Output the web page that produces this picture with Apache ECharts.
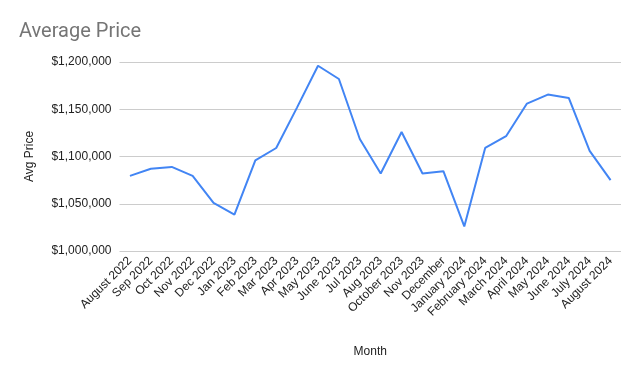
<!DOCTYPE html>
<html>
<head>
<meta charset="utf-8">
<script src="https://cdn.jsdelivr.net/npm/echarts@6/dist/echarts.min.js"></script>
<style>
  html, body { margin: 0; padding: 0; background: #fff; }
  #chart { width: 641px; height: 376px; }
</style>
</head>
<body>
<div id="chart"></div>
<script>
const months = [
  'August 2022', 'Sep 2022', 'Oct 2022', 'Nov 2022', 'Dec 2022', 'Jan 2023',
  'Feb 2023', 'Mar 2023', 'Apr 2023', 'May 2023', 'June 2023', 'Jul 2023',
  'Aug 2023', 'October 2023', 'Nov 2023', 'December', 'January 2024', 'February 2024',
  'March 2024', 'April 2024', 'May 2024', 'June 2024', 'July 2024', 'August 2024'
];
const avgPrice = [
  1079500, 1087000, 1089000, 1079500, 1051000, 1038500,
  1096000, 1109000, 1152000, 1196000, 1182000, 1118500,
  1082000, 1126000, 1082000, 1084500, 1026000, 1109000,
  1121500, 1156000, 1165500, 1162000, 1106000, 1075000
];
const yMin = 1000000;
const yMax = 1200000;
const yStep = 50000;

const font = '"Liberation Sans", Arial, sans-serif';
const chart = echarts.init(document.getElementById('chart'));

chart.setOption({
  animation: false,
  title: {
    text: 'Average Price',
    left: 14,
    top: 17,
    textStyle: { fontFamily: 'Roboto, sans-serif', fontSize: 20, fontWeight: 'normal', color: '#757575' }
  },
  grid: { left: 119.5, right: 20, top: 62, bottom: 125 },
  xAxis: {
    type: 'category',
    data: months,
    boundaryGap: true,
    name: 'Month',
    nameLocation: 'middle',
    nameGap: 95,
    nameTextStyle: { fontFamily: font, fontSize: 12, color: '#222' },
    axisLine: { show: false },
    axisTick: { show: false },
    axisLabel: {
      interval: 0,
      rotate: 45,
      margin: 8,
      fontFamily: font,
      fontSize: 12,
      color: '#222'
    }
  },
  yAxis: {
    type: 'value',
    min: yMin,
    max: yMax,
    interval: yStep,
    name: 'Avg Price',
    nameLocation: 'middle',
    nameGap: 84,
    nameTextStyle: { fontFamily: font, fontSize: 12, color: '#222' },
    axisLine: { show: false },
    axisTick: { show: false },
    axisLabel: {
      margin: 8,
      fontFamily: font,
      fontSize: 12,
      color: '#222',
      formatter: v => '$' + v.toLocaleString('en-US')
    },
    splitLine: { lineStyle: { color: '#cccccc', width: 1 } }
  },
  series: [
    {
      type: 'line',
      data: avgPrice,
      showSymbol: false,
      lineStyle: { color: '#4285F4', width: 2 },
      itemStyle: { color: '#4285F4' }
    }
  ]
});
</script>
</body>
</html>
